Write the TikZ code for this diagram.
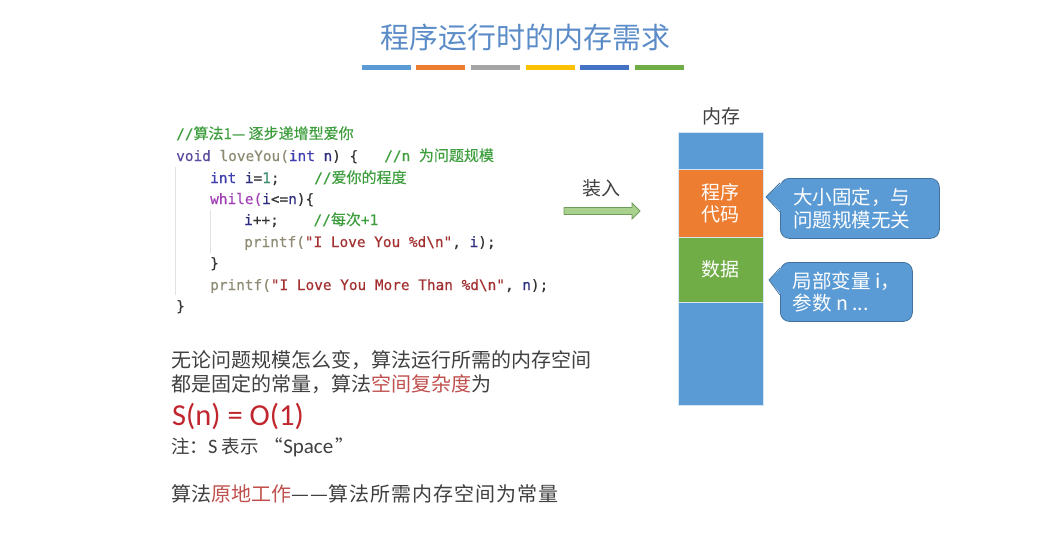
\documentclass[tikz,border=0pt]{standalone}
\usepackage{fontspec}
\setmainfont{Noto Sans CJK SC}
\newfontfamily\zh{Noto Sans CJK SC}
\newfontfamily\zhb{Noto Sans CJK SC}[FakeBold=0.3]
\newfontfamily\lat{Carlito}
\newfontfamily\mono{DejaVu Sans Mono}[FakeBold=0.4]
\usetikzlibrary{calc}
\definecolor{titleblue}{HTML}{5B8CC8}
\definecolor{txtgray}{HTML}{404040}
\definecolor{hlred}{HTML}{C0504D}
\definecolor{bigred}{HTML}{C0262D}
\definecolor{memblue}{HTML}{5B9BD5}
\definecolor{memorange}{HTML}{ED7D31}
\definecolor{memgreen}{HTML}{70AD47}
\definecolor{callline}{HTML}{41719C}
\definecolor{arrowfill}{HTML}{A9D18E}
\definecolor{arrowline}{HTML}{6E9B5A}
\definecolor{barA}{HTML}{5B9BD5}
\definecolor{barB}{HTML}{ED7D31}
\definecolor{barC}{HTML}{A5A5A5}
\definecolor{barD}{HTML}{FFC000}
\definecolor{barE}{HTML}{4472C4}
\definecolor{barF}{HTML}{70AD47}
\definecolor{ccom}{HTML}{3E9E3E}
\definecolor{ckw}{HTML}{5C4B9E}
\definecolor{cfn}{HTML}{8E8A73}
\definecolor{cty}{HTML}{3F3FB0}
\definecolor{cvar}{HTML}{2F2F80}
\definecolor{cnum}{HTML}{3B8B6B}
\definecolor{cwh}{HTML}{A23FB5}
\definecolor{cstr}{HTML}{A33030}
\definecolor{cpl}{HTML}{333333}
\definecolor{guidegray}{HTML}{E2E2E2}
\newcommand\cCm[1]{\textcolor{ccom}{#1}}
\newcommand\cKw[1]{\textcolor{ckw}{#1}}
\newcommand\cFn[1]{\textcolor{cfn}{#1}}
\newcommand\cTy[1]{\textcolor{cty}{#1}}
\newcommand\cVa[1]{\textcolor{cvar}{#1}}
\newcommand\cNu[1]{\textcolor{cnum}{#1}}
\newcommand\cWh[1]{\textcolor{cwh}{#1}}
\newcommand\cSt[1]{\textcolor{cstr}{#1}}
\newcommand\czh{\zhb\fontsize{15}{17}\selectfont}
\begin{document}
\begin{tikzpicture}[x=1pt,y=-1pt,
  codeline/.style={anchor=base west, inner sep=0, text=cpl, font=\mono\fontsize{14.4}{17}\selectfont},
  bodytxt/.style={anchor=base west, inner sep=0, text=txtgray, font=\fontsize{20}{23}\selectfont},
  lbltxt/.style={inner sep=0, text=txtgray, font=\fontsize{19}{22}\selectfont},
  memblk/.style={anchor=north west, inner sep=0, outer sep=0, minimum width=85, draw=white!75!memblue, line width=0.6, text=white, align=center, font=\fontsize{19}{23}\selectfont},
  callbox/.style={anchor=north west, fill=memblue, draw=callline, line width=0.8, rounded corners=9, text=white, align=left, inner ysep=0, font=\fontsize{19.5}{22.5}\selectfont},
  guide/.style={draw=guidegray, line width=1},
  bar/.style={inner sep=0, minimum width=49, minimum height=5, anchor=north west}
]
\useasboundingbox (0,0) rectangle (1062,546);
\fill[white] (0,0) rectangle (1062,546);

% title
\node[anchor=base, inner sep=0, text=titleblue, font=\fontsize{29}{34}\selectfont] (title) at (525,48) {程序运行时的内存需求};
\node[bar, fill=barA] (b1) at (362,65) {};
\node[bar, fill=barB] (b2) at (416,65) {};
\node[bar, fill=barC] (b3) at (471,65) {};
\node[bar, fill=barD] (b4) at (526,65) {};
\node[bar, fill=barE] (b5) at (580,65) {};
\node[bar, fill=barF] (b6) at (635,65) {};

% code
\draw[guide] (175,167) -- (175,295);
\draw[guide] (210,210) -- (210,253);
\node[codeline] (c0) at (176,139) {\cCm{//{\czh 算法1— 逐步递增型爱你}}};
\node[codeline] (c1) at (176,161) {\cKw{void} \cFn{loveYou(}\cTy{int} \cVa{n}) \{~~~\cCm{//n {\czh 为问题规模}}};
\node[codeline] (c2) at (210,183) {\cTy{int} \cVa{i}=\cNu{1};~~~~\cCm{//{\czh 爱你的程度}}};
\node[codeline] (c3) at (210,204) {\cWh{while(}\cVa{i}<=\cVa{n})\{};
\node[codeline] (c4) at (244,225) {\cVa{i}++;~~~~\cCm{//{\czh 每次}+1}};
\node[codeline] (c5) at (244,247) {\cFn{printf(}\cSt{"I Love You \%d\textbackslash n"}, \cVa{i});};
\node[codeline] (c6) at (210,268) {\}};
\node[codeline] (c7) at (210,290) {\cFn{printf(}\cSt{"I Love You More Than \%d\textbackslash n"}, \cVa{n});};
\node[codeline] (c8) at (176,311) {\}};

% bottom text
\node[bodytxt] (t1) at (171,367) {无论问题规模怎么变，算法运行所需的内存空间};
\node[bodytxt] (t2) at (171,391) {都是固定的常量，算法\textcolor{hlred}{空间复杂度}为};
\node[bodytxt, text=bigred, font=\lat\fontsize{30.5}{36}\selectfont] (t3) at (172,425) {S(n) = O(1)};
\node[bodytxt, font=\fontsize{18.5}{22}\selectfont] (t4) at (171,453) {注：{\lat\fontsize{20.5}{22}\selectfont S} 表示\hspace{6pt}“{\lat\fontsize{21}{22}\selectfont Space}\hspace{2pt}”};
\node[bodytxt] (t5) at (171,501) {算法\textcolor{hlred}{原地工作}—\hspace{1.5pt}—{\addfontfeature{LetterSpace=5}算法所需内存空间为常量}};

% load arrow
\node[lbltxt] (loadlbl) at (601,188) {装入};
\coordinate (ld) at (564,211);
\draw[draw=arrowline, fill=arrowfill, line width=0.8] (ld) ++(0,-3.5) -- ++(68,0) -- ++(0,-4.5) -- ++(8,8) -- ++(-8,8) -- ++(0,-4.5) -- ++(-68,0) -- cycle;

% memory column
\node[lbltxt] (memlbl) at (721,116) {内存};
\node[memblk, fill=memblue, minimum height=37] (mtop) at (678,132) {};
\node[memblk, fill=memorange, minimum height=68] (mcode) at (678,169) {程序\\[-1pt]代码};
\node[memblk, fill=memgreen, minimum height=65] (mdata) at (678,237) {数据};
\node[memblk, fill=memblue, minimum height=103] (mbot) at (678,302) {};

% callouts
\node[callbox, minimum width=159, minimum height=60, text width=133, inner xsep=13] (call1) at (780,178) {大小固定，与\\问题规模无关};
\fill[memblue] ($(call1.north west)+(1.5,5)$) -- ($(call1.north west)+(-14,19)$) -- ($(call1.north west)+(1.5,34)$) -- cycle;
\draw[callline, line width=0.8, line join=round] ($(call1.north west)+(0,5)$) -- ($(call1.north west)+(-14,19)$) -- ($(call1.north west)+(0,34)$);

\node[callbox, minimum width=132, minimum height=59, inner xsep=12] (call2) at (780,262) {局部变量 i，\\参数 n ...};
\fill[memblue] ($(call2.north west)+(1.5,6)$) -- ($(call2.north west)+(-11,18)$) -- ($(call2.north west)+(1.5,33)$) -- cycle;
\draw[callline, line width=0.8, line join=round] ($(call2.north west)+(0,6)$) -- ($(call2.north west)+(-11,18)$) -- ($(call2.north west)+(0,33)$);
\end{tikzpicture}
\end{document}
